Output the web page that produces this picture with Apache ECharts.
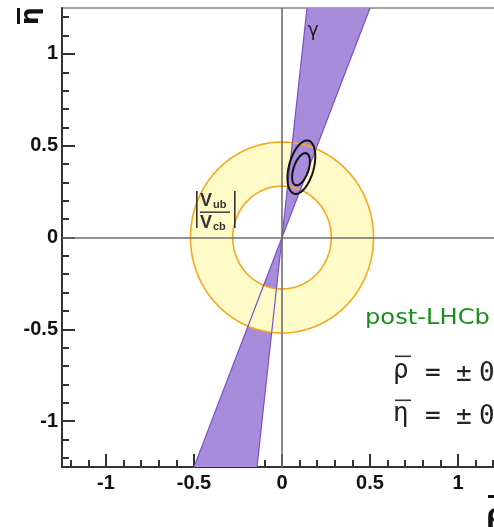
<!DOCTYPE html>
<html>
<head>
<meta charset="utf-8">
<script src="https://cdn.jsdelivr.net/npm/echarts@6/dist/echarts.min.js"></script>
<style>
html, body { margin: 0; padding: 0; background: #fff; overflow: hidden; }
#c { width: 494px; height: 527px; }
</style>
</head>
<body>
<div id="c"></div>
<script>
// Axis ranges and tick positions
const rhoRange = [-1.25, 1.25];
const etaRange = [-1.25, 1.25];
const majorTicks = [-1, -0.5, 0, 0.5, 1];
const minorTicks = [-1.2, -1.1, -1.0, -0.9, -0.8, -0.7, -0.6, -0.5, -0.4, -0.3, -0.2, -0.1, 0,
                    0.1, 0.2, 0.3, 0.4, 0.5, 0.6, 0.7, 0.8, 0.9, 1.0, 1.1, 1.2];

// gamma constraint: double wedge through the origin, corners on the frame
const gammaUpper = [[0, 0], [0.142, 1.25], [0.50, 1.25]];
const gammaLower = [[0, 0], [-0.50, -1.25], [-0.142, -1.25]];
// |Vub/Vcb| annulus around the origin: inner and outer radius
const vubRadii = [0.28, 0.52];
// fit contours: centre rho, centre eta, semi-major, semi-minor, tilt (deg)
const contourInner = [0.108, 0.372, 0.092, 0.042, 70];
const contourOuter = [0.110, 0.383, 0.150, 0.070, 74];

const PURPLE = '#a68cdb';
const PURPLE_EDGE = '#7b50c6';
const YELLOW = '#fefbc8';
const ORANGE = '#f5a81e';
const AXIS = '#333';

function circlePts(r, reverse) {
  const pts = [];
  const n = 180;
  for (let i = 0; i <= n; i++) {
    const u = (reverse ? (n - i) : i) / n * 2 * Math.PI;
    pts.push([r * Math.cos(u), r * Math.sin(u)]);
  }
  return pts;
}

function ellipsePts(c) {
  const [cx, cy, a, b, deg] = c;
  const t = deg * Math.PI / 180;
  const pts = [];
  const n = 120;
  for (let i = 0; i < n; i++) {
    const u = i / n * 2 * Math.PI;
    pts.push([
      cx + a * Math.cos(u) * Math.cos(t) - b * Math.sin(u) * Math.sin(t),
      cy + a * Math.cos(u) * Math.sin(t) + b * Math.sin(u) * Math.cos(t)
    ]);
  }
  return pts;
}

function shapeSeries(build) {
  return {
    type: 'custom',
    xAxisIndex: 0,
    yAxisIndex: 0,
    silent: true,
    animation: false,
    data: [[0, 0]],
    renderItem: function (params, api) {
      const toPx = pts => pts.map(d => api.coord(d));
      return build(toPx);
    }
  };
}

const series = [
  // lower half of the gamma wedge sits under the annulus
  shapeSeries(px => ({ type: 'polygon', shape: { points: px(gammaLower) }, style: { fill: PURPLE } })),
  // annulus fill: outer loop one way, inner loop the other way
  shapeSeries(px => ({
    type: 'polygon',
    shape: { points: px(circlePts(vubRadii[1], false).concat(circlePts(vubRadii[0], true))) },
    style: { fill: YELLOW }
  })),
  // upper half of the gamma wedge
  shapeSeries(px => ({ type: 'polygon', shape: { points: px(gammaUpper) }, style: { fill: PURPLE } })),
  // annulus edges
  shapeSeries(px => ({
    type: 'group',
    children: vubRadii.map(r => ({
      type: 'polyline',
      shape: { points: px(circlePts(r, false)) },
      style: { stroke: ORANGE, lineWidth: 1.6, fill: 'none' }
    }))
  })),
  // wedge edges
  shapeSeries(px => ({
    type: 'group',
    children: [
      [gammaUpper[1], gammaLower[2]],
      [gammaUpper[2], gammaLower[1]]
    ].map(seg => ({
      type: 'polyline',
      shape: { points: px(seg) },
      style: { stroke: PURPLE_EDGE, lineWidth: 1.2, fill: 'none' }
    }))
  })),
  // fit contours
  shapeSeries(px => ({
    type: 'group',
    children: [contourInner, contourOuter].map(c => ({
      type: 'polygon',
      shape: { points: px(ellipsePts(c)) },
      style: { stroke: '#111', lineWidth: 2, fill: 'none' }
    }))
  })),
  // rho = 0 and eta = 0 lines
  {
    type: 'line',
    data: [],
    silent: true,
    markLine: {
      silent: true,
      animation: false,
      symbol: 'none',
      label: { show: false },
      lineStyle: { color: '#6e6e6e', width: 1.6, type: 'solid' },
      data: [{ xAxis: 0 }, { yAxis: 0 }]
    }
  }
];

const labelFont = { fontFamily: 'Liberation Sans', fontWeight: 'bold', fontSize: 20, color: '#111' };

function axisPair(kind, range) {
  const isX = kind === 'x';
  const base = {
    type: 'value',
    min: range[0],
    max: range[1],
    position: isX ? 'bottom' : 'left',
    splitLine: { show: false }
  };
  return [
    Object.assign({}, base, {
      axisLine: { show: true, onZero: false, lineStyle: { color: AXIS, width: 2 } },
      axisTick: { show: true, inside: true, length: 13, customValues: majorTicks, lineStyle: { color: AXIS, width: 2 } },
      axisLabel: Object.assign({ show: true, customValues: majorTicks, margin: isX ? 6 : 4 }, labelFont)
    }),
    Object.assign({}, base, {
      axisLine: { show: false, onZero: false },
      axisTick: { show: true, inside: true, length: 7, customValues: minorTicks, lineStyle: { color: AXIS, width: 2 } },
      axisLabel: { show: false }
    })
  ];
}

const TEXT_Z = 100;
const graphic = [
  // eta-bar axis title, turned on its side
  {
    type: 'group', x: 31, y: 16, rotation: Math.PI / 2, z: TEXT_Z,
    children: [
      { type: 'text', x: 0, y: 0, z: TEXT_Z, style: { text: 'η', font: 'bold 25px "DejaVu Sans"', fill: '#111', align: 'center', verticalAlign: 'middle' } },
      { type: 'rect', z: TEXT_Z, shape: { x: -8, y: -14, width: 16, height: 3 }, style: { fill: '#111' } }
    ]
  },
  // rho-bar axis title
  { type: 'text', z: TEXT_Z, x: 486, y: 516, style: { text: 'ρ', font: 'bold 26px "DejaVu Sans"', fill: '#111', align: 'left', verticalAlign: 'middle' } },
  { type: 'rect', z: TEXT_Z, shape: { x: 488, y: 495, width: 16, height: 3 }, style: { fill: '#111' } },
  // gamma band label
  { type: 'text', z: TEXT_Z, x: 313, y: 31, style: { text: 'γ', font: '19px "DejaVu Sans"', fill: '#222', align: 'center', verticalAlign: 'middle' } },
  // |Vub/Vcb| label
  { type: 'rect', z: TEXT_Z, shape: { x: 196, y: 191, width: 1.6, height: 37 }, style: { fill: '#333' } },
  { type: 'rect', z: TEXT_Z, shape: { x: 234, y: 191, width: 1.6, height: 37 }, style: { fill: '#333' } },
  { type: 'rect', z: TEXT_Z, shape: { x: 200, y: 211.5, width: 30, height: 1.4 }, style: { fill: '#333' } },
  { type: 'text', z: TEXT_Z, x: 200, y: 201, style: { text: 'V', font: 'bold 18px "Liberation Sans"', fill: '#333', align: 'left', verticalAlign: 'middle' } },
  { type: 'text', z: TEXT_Z, x: 213, y: 205, style: { text: 'ub', font: 'bold 11px "Liberation Sans"', fill: '#333', align: 'left', verticalAlign: 'middle' } },
  { type: 'text', z: TEXT_Z, x: 200, y: 223, style: { text: 'V', font: 'bold 18px "Liberation Sans"', fill: '#333', align: 'left', verticalAlign: 'middle' } },
  { type: 'text', z: TEXT_Z, x: 213, y: 227, style: { text: 'cb', font: 'bold 11px "Liberation Sans"', fill: '#333', align: 'left', verticalAlign: 'middle' } },
  // scenario caption
  { type: 'text', z: TEXT_Z, x: 365, y: 318, scaleX: 1.1, style: { text: 'post-LHCb', font: '22px "DejaVu Sans"', fill: '#17901a', align: 'left', verticalAlign: 'middle' } },
  // projected precision lines
  { type: 'text', z: TEXT_Z, x: 393, y: 371, style: { text: 'ρ', font: '26px "DejaVu Sans Mono"', fill: '#222', align: 'left', verticalAlign: 'middle' } },
  { type: 'rect', z: TEXT_Z, shape: { x: 395, y: 355.5, width: 16, height: 1.6 }, style: { fill: '#333' } },
  { type: 'text', z: TEXT_Z, x: 425, y: 374, style: { text: '=', font: '26px "DejaVu Sans Mono"', fill: '#222', align: 'left', verticalAlign: 'middle' } },
  { type: 'text', z: TEXT_Z, x: 456, y: 374, style: { text: '±', font: '26px "DejaVu Sans Mono"', fill: '#222', align: 'left', verticalAlign: 'middle' } },
  { type: 'text', z: TEXT_Z, x: 479, y: 374, style: { text: '0', font: '26px "DejaVu Sans Mono"', fill: '#222', align: 'left', verticalAlign: 'middle' } },
  { type: 'text', z: TEXT_Z, x: 393, y: 414, style: { text: 'η', font: '26px "DejaVu Sans Mono"', fill: '#222', align: 'left', verticalAlign: 'middle' } },
  { type: 'rect', z: TEXT_Z, shape: { x: 395, y: 399.5, width: 16, height: 1.6 }, style: { fill: '#333' } },
  { type: 'text', z: TEXT_Z, x: 425, y: 417, style: { text: '=', font: '26px "DejaVu Sans Mono"', fill: '#222', align: 'left', verticalAlign: 'middle' } },
  { type: 'text', z: TEXT_Z, x: 456, y: 417, style: { text: '±', font: '26px "DejaVu Sans Mono"', fill: '#222', align: 'left', verticalAlign: 'middle' } },
  { type: 'text', z: TEXT_Z, x: 479, y: 417, style: { text: '0', font: '26px "DejaVu Sans Mono"', fill: '#222', align: 'left', verticalAlign: 'middle' } }
];

const chart = echarts.init(document.getElementById('c'), null, { renderer: 'canvas' });
chart.setOption({
  animation: false,
  backgroundColor: '#fff',
  grid: {
    left: 62, top: 8, right: -8, bottom: 60,
    outerBoundsMode: 'none',
    containLabel: false,
    show: true, borderColor: '#888', borderWidth: 1.5, backgroundColor: 'transparent'
  },
  xAxis: axisPair('x', rhoRange),
  yAxis: axisPair('y', etaRange),
  series: series,
  graphic: graphic
});
</script>
</body>
</html>
